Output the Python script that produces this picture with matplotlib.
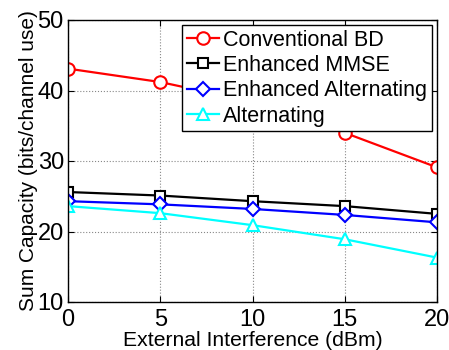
import matplotlib
matplotlib.use("Agg")
import matplotlib.pyplot as plt

plt.rcParams["font.family"] = ["Liberation Sans", "DejaVu Sans"]

interference = [0, 5, 10, 15, 20]
conventional_bd = [43.1, 41.2, 38.4, 34.0, 29.1]
enhanced_mmse = [25.6, 25.1, 24.3, 23.6, 22.5]
enhanced_alt = [24.3, 23.85, 23.2, 22.35, 21.3]
alternating = [23.6, 22.6, 20.9, 18.9, 16.3]

fig = plt.figure(figsize=(4.49, 3.5), dpi=100)
ax = fig.add_axes([68 / 449, 1 - 302 / 350, (437 - 68) / 449, (302 - 20) / 350])

style = dict(linewidth=1.6, markersize=9, markerfacecolor="white", markeredgewidth=1.5)
ax.plot(interference, conventional_bd, "-o", color="red", label="Conventional BD", **style)
ax.plot(interference, enhanced_mmse, "-s", color="black", label="Enhanced MMSE",
        **{**style, "markersize": 7.5})
ax.plot(interference, enhanced_alt, "-D", color="blue", label="Enhanced Alternating",
        **{**style, "markersize": 7.5})
ax.plot(interference, alternating, "-^", color="cyan", label="Alternating", **style)

ax.set_xlim(0, 20)
ax.set_ylim(10, 50)
ax.set_xticks([0, 5, 10, 15, 20])
ax.set_yticks([10, 20, 30, 40, 50])
ax.tick_params(direction="in", labelsize=17, length=4, top=True, right=True)
ax.tick_params(axis="x", pad=5)
ax.tick_params(axis="y", pad=3)
ax.grid(True, linestyle=":", color="#888888", linewidth=0.8)
for s in ax.spines.values():
    s.set_linewidth(1.0)

ax.set_xlabel("External Interference (dBm)", fontsize=15.2, labelpad=0)
ax.set_ylabel("Sum Capacity (bits/channel use)", fontsize=15, labelpad=0)

leg = ax.legend(loc="upper right", fontsize=15.5, fancybox=False, framealpha=1,
                edgecolor="black", borderpad=0.2, labelspacing=0.2,
                handlelength=1.5, handletextpad=0.2, borderaxespad=0.25)
leg.get_frame().set_linewidth(1.0)

fig.savefig("out.png", dpi=100)
